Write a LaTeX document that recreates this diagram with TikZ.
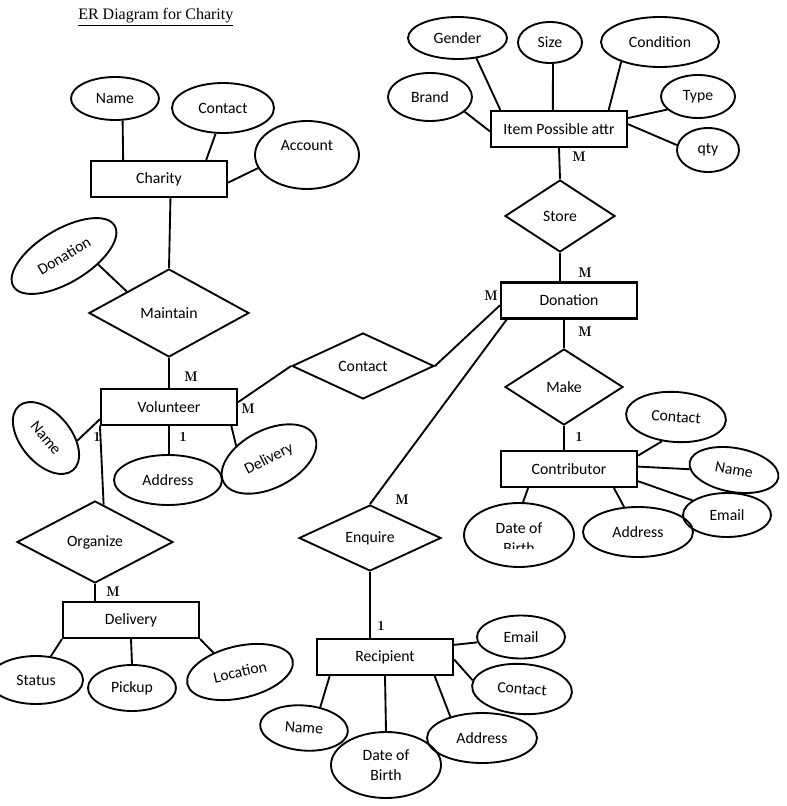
\documentclass[tikz,border=0pt]{standalone}
\usepackage{fontspec}
\setmainfont{Carlito}
\newfontfamily\titlefont{Liberation Serif}
\usetikzlibrary{shapes.geometric}

\begin{document}
\begin{tikzpicture}[
  x=0.75pt, y=-0.75pt,
  font=\fontsize{11.8}{15}\selectfont,
  ent/.style={draw, rectangle, line width=1.6pt, minimum width=102pt,
              minimum height=27pt, inner sep=0pt},
  attr/.style={draw, ellipse, line width=1.4pt, inner sep=0pt, align=center},
  rel/.style={draw, diamond, aspect=2, line width=1.4pt, inner sep=0pt},
  wh/.style 2 args={minimum width=#1*1.5pt, minimum height=#2*1.5pt},
  card/.style={font=\fontsize{10.5}{12}\fontfamily{lmr}\bfseries\selectfont,
               inner sep=0pt},
  ln/.style={-, line width=1.4pt},
]
\useasboundingbox (0,0) rectangle (786,806);

\node[anchor=base west, inner sep=0pt, font=\titlefont\fontsize{12}{14}\selectfont]
  (title) at (78,20) {\underline{ER Diagram for Charity}};

%% Charity
\node[ent] (ch) at (159,179) {Charity};
\node[attr, wh={44}{21.5}] (chName) at (115,98.5) {Name};
\node[attr, wh={51}{25}] (chCont) at (223,108) {Contact};
\node[attr, wh={52}{34}, text depth=15pt] (chAcc) at (307,155) {Account};
\node[rel, wh={80}{44}] (mt) at (169,313) {Maintain};
\node[attr, wh={59}{26.5}, rotate=31] (mtDon) at (64,256) {Donation};

%% Volunteer
\node[ent] (vol) at (169,407) {Volunteer};
\node[attr, wh={42}{25}, rotate=-50] (volName) at (46,438) {Name};
\node[attr, wh={54}{25}] (volAddr) at (168,480) {Address};
\node[attr, wh={51}{29}, rotate=27] (volDel) at (269,459) {Delivery};
\node[rel, wh={71}{33}] (ct) at (363,366) {Contact};
\node[rel, wh={78}{41}] (org) at (95,542) {Organize};

%% Delivery
\node[ent] (del) at (131,620) {Delivery};
\node[attr, wh={47}{24}] (delStat) at (36,680) {Status};
\node[attr, wh={44}{23}] (delPick) at (132,688) {Pickup};
\node[attr, wh={54}{26}, rotate=13] (delLoc) at (240,672) {Location};

%% Item Possible attr
\node[ent] (item) at (559,129) {Item Possible attr};
\node[attr, wh={49.5}{21}] (itGen) at (457.5,38) {Gender};
\node[attr, wh={32}{20.5}] (itSize) at (550,42.5) {Size};
\node[attr, wh={59}{25}] (itCond) at (660,42) {Condition};
\node[attr, wh={42}{24}] (itBrand) at (430,97) {Brand};
\node[attr, wh={37}{21.5}] (itType) at (698,96.5) {Type};
\node[attr, wh={31}{22}] (itQty) at (708,150) {qty};
\node[rel, wh={55}{36}] (st) at (560,216) {Store};

%% Donation and Contributor
\node[ent] (don) at (569,300.5) {Donation};
\node[rel, wh={59}{38}] (mk) at (564,387) {Make};
\node[ent] (con) at (569,469) {Contributor};
\node[attr, wh={50}{25}, rotate=-4] (conCont) at (676,417) {Contact};
\node[attr, wh={45}{22}, rotate=-10] (conName) at (734,470) {Name};
\node[attr, wh={44}{22}] (conMail) at (727,515) {Email};
\node[attr, wh={55}{25}] (conAddr) at (638,532) {Address};
\node[attr, wh={55}{32}] (conBirth) at (519,535) {};
\begin{scope}
  \clip (460,500) rectangle (580,548.5);
  \node[align=center] (conBirthTxt) at (519,538) {Date of\\Birth};
\end{scope}

%% Recipient
\node[rel, wh={71}{33}] (enq) at (370,538) {Enquire};
\node[ent] (rec) at (385,657) {Recipient};
\node[attr, wh={44}{21.5}] (recMail) at (521,637) {Email};
\node[attr, wh={50}{25}, rotate=-4] (recCont) at (522,689) {Contact};
\node[attr, wh={55}{25}] (recAddr) at (482,738) {Address};
\node[attr, wh={55}{33}] (recBirth) at (386,765) {Date of\\Birth};
\node[attr, wh={44}{22.5}, rotate=-5] (recName) at (304,728) {Name};

%% Attributes
\draw[ln] (ch.152) -- (chName.289);
\draw[ln] (ch.22) -- (chCont.254);
\draw[ln] (ch.-3) -- (chAcc.195);
\draw[ln] (mt.153) -- (mtDon.-45);
\draw[ln] (vol.190) -- (volName.45);
\draw[ln] (vol.south) -- (vol.south |- volAddr.north);
\draw[ln] (vol.343) -- (volDel.131);
\draw[ln] (del.south west) -- (delStat.58);
\draw[ln] (del.south) -- (delPick.north);
\draw[ln] (del.south east) -- (delLoc.131);
\draw[ln] (item.162) -- (itGen.313);
\draw[ln] (item.108) -- (itSize.278);
\draw[ln] (item.21) -- (itCond.207);
\draw[ln] (item.182) -- (itBrand.337);
\draw[ln] (item.9) -- (itType.203);
\draw[ln] (item.4) -- (itQty.171);
\draw[ln] (con.11) -- (conCont.244);
\draw[ln] (con.2) -- (conName.189);
\draw[ln] (con.350) -- (conMail.157);
\draw[ln] (con.337) -- (conAddr.119);
\draw[ln] (con.205) -- (conBirth.83);
\draw[ln] (rec.10) -- (recMail.187);
\draw[ln] (rec.358) -- (recCont.174);
\draw[ln] (rec.339) -- (recAddr.146);
\draw[ln] (rec.south) -- (recBirth.north);
\draw[ln] (rec.199) -- (recName.57);

%% Relationships
\draw[ln] (ch.-59) -- (mt.north);
\draw[ln] (mt.south) -- (vol.north);
\draw[ln] (vol.4) -- (ct.west);
\draw[ln] (ct.east) -- (don.184);
\draw[ln] (vol.195) -- (org.77);
\draw[ln] (org.south) -- (org.south |- del.north);
\draw[ln] (item.south) -- (st.north);
\draw[ln] (st.south) -- (st.south |- don.north);
\draw[ln] (mk.north |- don.south) -- (mk.north);
\draw[ln] (mk.south) -- (mk.south |- con.north);
\draw[ln] (don.197) -- (enq.north);
\draw[ln] (enq.south) -- (enq.south |- rec.north);

%% Cardinalities
\node[card] (mVol) at (191,377) {M};
\node[card] (mCt) at (248,409) {M};
\node[card] (oOrg) at (97,437) {1};
\node[card] (oAddr) at (183,437) {1};
\node[card] (mDel) at (113,592) {M};
\node[card] (mItem) at (579,157) {M};
\node[card] (mSt) at (585,273) {M};
\node[card] (mDonL) at (491,296) {M};
\node[card] (mDonB) at (585,332) {M};
\node[card] (oCon) at (579,437) {1};
\node[card] (mEnq) at (402,500) {M};
\node[card] (oRec) at (381,626) {1};
\end{tikzpicture}
\end{document}
